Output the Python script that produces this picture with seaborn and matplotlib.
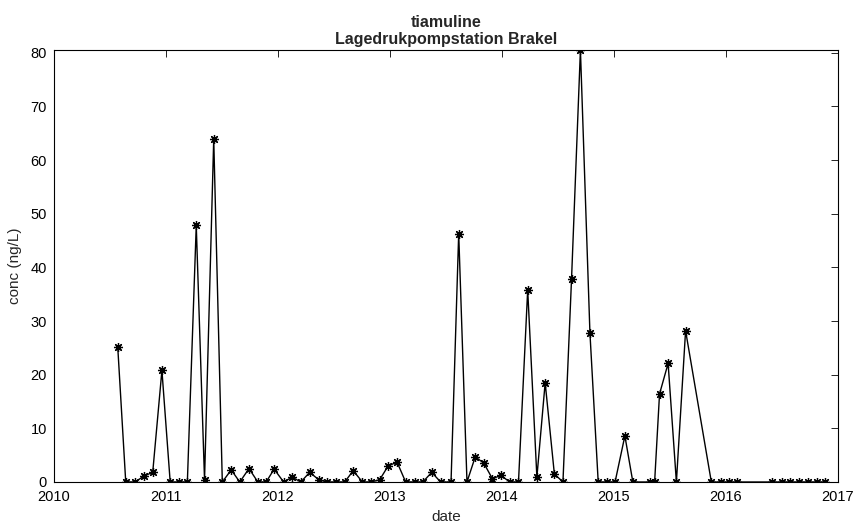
import matplotlib
matplotlib.use("Agg")
import matplotlib.pyplot as plt
import matplotlib.dates as mdates
import seaborn as sns
import numpy as np
import pandas as pd

# sample dates and concentrations
dates = [
    "2010-07-28", "2010-08-23", "2010-09-23", "2010-10-21", "2010-11-19", "2010-12-19",
    "2011-01-15", "2011-02-12", "2011-03-12", "2011-04-10", "2011-05-07", "2011-06-06",
    "2011-07-04", "2011-08-02", "2011-08-30", "2011-09-29", "2011-10-28", "2011-11-24",
    "2011-12-20", "2012-01-20", "2012-02-17", "2012-03-16", "2012-04-14", "2012-05-14",
    "2012-06-10", "2012-07-09", "2012-08-06", "2012-09-03", "2012-10-03", "2012-10-30",
    "2012-11-28", "2012-12-26", "2013-01-24", "2013-02-21", "2013-03-22", "2013-04-18",
    "2013-05-17", "2013-06-15", "2013-07-19", "2013-08-13", "2013-09-09", "2013-10-06",
    "2013-11-03", "2013-12-01", "2013-12-29", "2014-01-26", "2014-02-24", "2014-03-26",
    "2014-04-25", "2014-05-22", "2014-06-21", "2014-07-19", "2014-08-16", "2014-09-14",
    "2014-10-15", "2014-11-11", "2014-12-09", "2015-01-05", "2015-02-06", "2015-03-04",
    "2015-04-30", "2015-05-14", "2015-05-30", "2015-06-27", "2015-07-24", "2015-08-23",
    "2015-11-15", "2015-12-18", "2016-01-13", "2016-02-07", "2016-06-01", "2016-07-01",
    "2016-07-30", "2016-08-28", "2016-09-26", "2016-10-24", "2016-11-21",
]
conc = [
    25.1, 0, 0, 1.1, 1.8, 20.8,
    0, 0, 0, 47.8, 0.4, 63.9,
    0, 2.25, 0, 2.5, 0, 0,
    2.4, 0, 0.9, 0, 1.8, 0.4,
    0, 0, 0, 2.1, 0, 0,
    0.4, 3.0, 3.7, 0, 0, 0,
    1.8, 0, 0, 46.3, 0, 4.7,
    3.5, 0.6, 1.25, 0, 0, 35.8,
    0.9, 18.5, 1.5, 0, 37.8, 80.5,
    27.8, 0, 0, 0, 8.6, 0,
    0, 0, 16.4, 22.1, 0, 28.2,
    0, 0, 0, 0, 0, 0,
    0, 0, 0, 0, 0,
]
year_ticks = list(range(2010, 2018))
y_ticks = list(range(0, 81, 10))

df = pd.DataFrame({"date": pd.to_datetime(dates), "conc": conc})

sns.set_style("white")
plt.rcParams["font.family"] = ["Liberation Sans", "DejaVu Sans"]

fig = plt.figure(figsize=(8.68, 5.27), dpi=100)
ax = fig.add_axes([0.0622, 0.0854, 0.9032, 0.8197])

# 8-spoke asterisk like MATLAB's '*'
sns.lineplot(data=df, x="date", y="conc", ax=ax, color="black", linewidth=1.0,
             marker=(8, 2, 0), markersize=6.5, markeredgewidth=0.9,
             markeredgecolor="black", markerfacecolor="black")

ax.set_xlim(pd.Timestamp("2010-01-01"), pd.Timestamp("2017-01-01"))
ax.set_ylim(0, max(conc))
ax.set_xticks([pd.Timestamp(f"{y}-01-01") for y in year_ticks])
ax.xaxis.set_major_formatter(mdates.DateFormatter("%Y"))
ax.set_yticks(y_ticks)

for s in ax.spines.values():
    s.set_color("black")
    s.set_linewidth(0.8)
ax.tick_params(direction="in", length=5, width=0.6, top=True, right=True,
               labelsize=10.5, colors="black")
ax.tick_params(axis="x", pad=6)
ax.tick_params(axis="y", pad=5)

ax.set_xlabel("date", fontsize=11, labelpad=4)
ax.set_ylabel("conc (ng/L)", fontsize=11, labelpad=6)
ax.set_title("tiamuline\nLagedrukpompstation Brakel", fontsize=11.5,
             fontweight="bold", pad=4, linespacing=1.2)

fig.savefig("out.png", dpi=100)
